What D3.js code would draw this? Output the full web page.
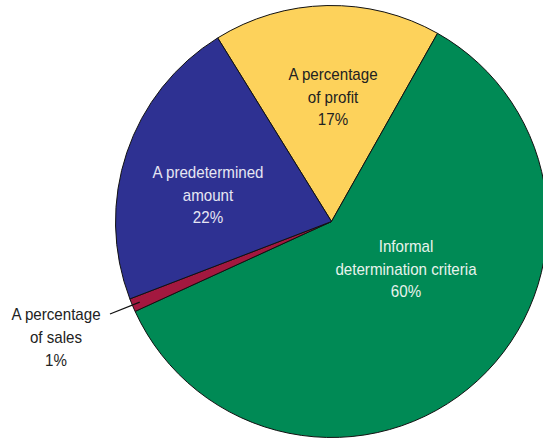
<!DOCTYPE html>
<html>
<head>
<meta charset="utf-8">
<script src="https://cdn.jsdelivr.net/npm/d3@7"></script>
<style>
  body { margin: 0; background: #fff; }
  text { font-family: "Liberation Sans Narrow", "Liberation Sans", Arial, sans-serif; font-size: 17px; }
</style>
</head>
<body>
<div id="app"></div>
<script>
const categories = ['A percentage of profit', 'Informal determination criteria', 'A percentage of sales', 'A predetermined amount']
const values = [17, 60, 1, 22]
const labelLines = [
  ['A percentage', 'of profit', '17%'],
  ['Informal', 'determination criteria', '60%'],
  ['A percentage', 'of sales', '1%'],
  ['A predetermined', 'amount', '22%']
]
const colors = ['#fdd25b', '#008a55', '#a3183f', '#2e3192']
const textColors = ['#222', '#e8f3ec', '#222', '#e6e6f3']

const width = 543
const height = 438
const cx = 331.5
const cy = 221.5
const radius = 216

const svg = d3.select('#app')
  .append('svg')
  .attr('width', width)
  .attr('height', height)

const g = svg.append('g')
  .attr('transform', `translate(${cx}, ${cy})`)

const pie = d3.pie()
  .sort(null)
  .startAngle(-31.8 * Math.PI / 180)
  .endAngle((360 - 31.8) * Math.PI / 180)

const arcs = pie(values)
const arc = d3.arc().innerRadius(0).outerRadius(radius)

g.selectAll('path')
  .data(arcs)
  .join('path')
  .attr('d', arc)
  .attr('fill', (d, i) => colors[i])
  .attr('stroke', '#111')
  .attr('stroke-width', 1)

// label anchors (centre of the middle line) relative to pie centre
const labelPlace = [
  [1.5, -119],
  [74.5, 53],
  [56 - cx, 343 - cy],
  [-123.5, -21]
]

function drawLabel(i) {
  const [x, y] = labelPlace[i]
  const t = g.append('text')
    .attr('text-anchor', 'middle')
    .attr('fill', textColors[i])
    .attr('transform', `translate(${x}, ${y}) scale(0.89, 1)`)
  labelLines[i].forEach((line, j) => {
    t.append('tspan')
      .attr('x', 0)
      .attr('y', (j - 1) * 23)
      .text(line)
  })
}

arcs.forEach((d, i) => drawLabel(i))

// leader line for the small slice
const small = arcs[2]
const midA = (small.startAngle + small.endAngle) / 2
const edge = [Math.sin(midA) * (radius - 8), -Math.cos(midA) * (radius - 8)]
g.append('line')
  .attr('x1', edge[0])
  .attr('y1', edge[1])
  .attr('x2', 110 - cx)
  .attr('y2', 314 - cy)
  .attr('stroke', '#111')
  .attr('stroke-width', 1.3)
</script>
</body>
</html>
